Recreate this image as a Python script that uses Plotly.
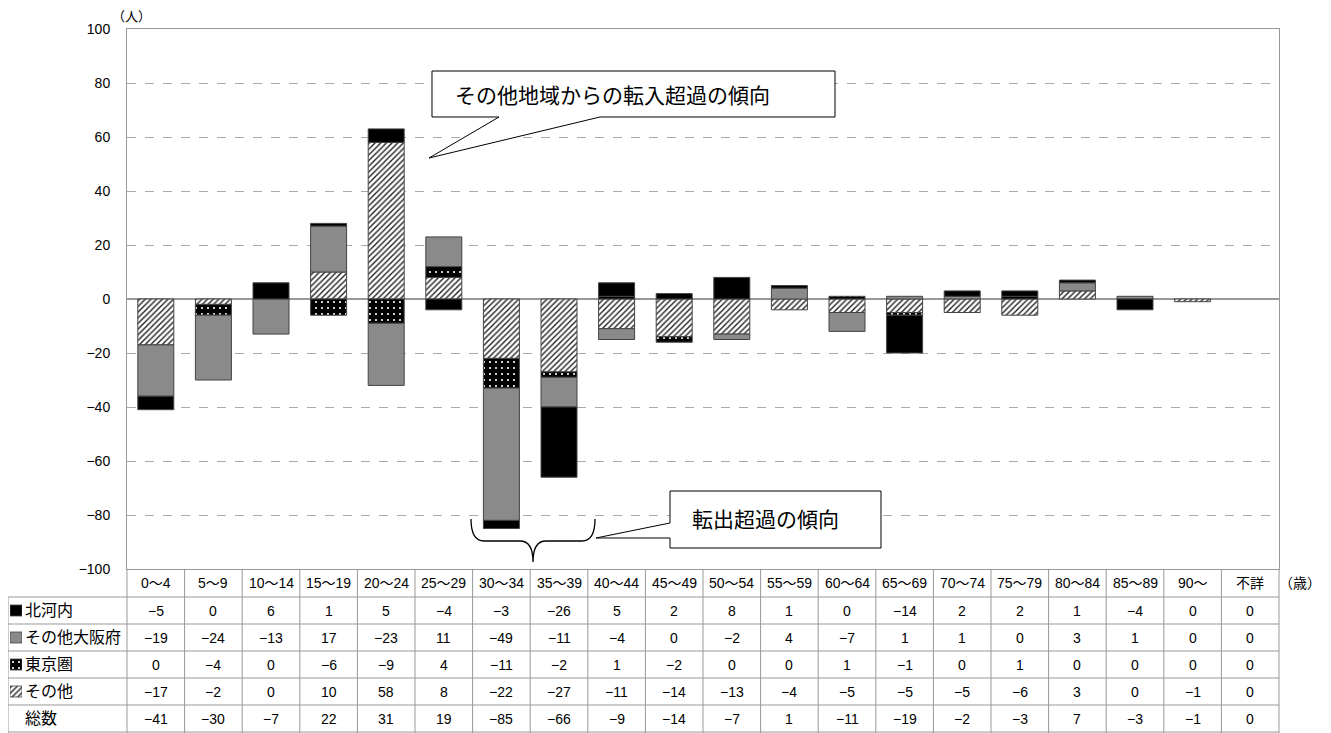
import plotly.graph_objects as go

# ---------------- data ----------------
categories = ["0～4", "5～9", "10～14", "15～19", "20～24", "25～29", "30～34", "35～39",
              "40～44", "45～49", "50～54", "55～59", "60～64", "65～69", "70～74", "75～79",
              "80～84", "85～89", "90～", "不詳"]
kitakawachi = [-5, 0, 6, 1, 5, -4, -3, -26, 5, 2, 8, 1, 0, -14, 2, 2, 1, -4, 0, 0]
sonota_osaka = [-19, -24, -13, 17, -23, 11, -49, -11, -4, 0, -2, 4, -7, 1, 1, 0, 3, 1, 0, 0]
tokyo = [0, -4, 0, -6, -9, 4, -11, -2, 1, -2, 0, 0, 1, -1, 0, 1, 0, 0, 0, 0]
sonota = [-17, -2, 0, 10, 58, 8, -22, -27, -11, -14, -13, -4, -5, -5, -5, -6, 3, 0, -1, 0]
total = [-41, -30, -7, 22, 31, 19, -85, -66, -9, -14, -7, 1, -11, -19, -2, -3, 7, -3, -1, 0]

row_labels = ["北河内", "その他大阪府", "東京圏", "その他", "総数"]
y_ticks = [-100, -80, -60, -40, -20, 0, 20, 40, 60, 80, 100]

# ---------------- geometry helpers ----------------
WIN_W, WIN_H = 1331, 733
OFF = 8  # page body margin
W, H = WIN_W - OFF, WIN_H - OFF
FONT = "Liberation Sans, Noto Sans CJK JP, sans-serif"


def px(x):
    return (x - OFF) / W


def py(y):
    return 1 - (y - OFF) / H


PLOT_L, PLOT_R, PLOT_T, PLOT_B = 127, 1279, 29, 569
ROW_EDGES = [597, 624, 651, 678, 705, 732]
TABLE_LEFT = 8

styles = {
    "北河内": dict(color="black", pattern=dict(shape="", fgcolor="black", bgcolor="black")),
    "その他大阪府": dict(color="#8c8c8c", pattern=dict(shape=".", fgcolor="#404040", bgcolor="#c4c4c4",
                                                   size=2, solidity=0.5)),
    "東京圏": dict(color="black", pattern=dict(shape=".", fgcolor="white", bgcolor="black",
                                            size=6, solidity=0.1)),
    "その他": dict(color="white", pattern=dict(shape="/", fgcolor="#222222", bgcolor="white",
                                            size=4, solidity=0.35)),
}
series = {"北河内": kitakawachi, "その他大阪府": sonota_osaka, "東京圏": tokyo, "その他": sonota}

fig = go.Figure()

# stacking order from the zero line outward
for name in ["その他", "東京圏", "その他大阪府", "北河内"]:
    vals = series[name]
    st = styles[name]
    fig.add_trace(go.Bar(
        x=categories, y=[v if v != 0 else None for v in vals], name=name,
        marker=dict(color=st["color"], pattern=st["pattern"],
                    line=dict(color="#444444", width=1)),
        showlegend=False, hoverinfo="x+y+name",
    ))

# legend keys in the table's header column (small subplot)
key_centers = [(ROW_EDGES[i] + ROW_EDGES[i + 1]) / 2 for i in range(5)]
for i, name in enumerate(row_labels[:4]):
    st = styles[name]
    fig.add_trace(go.Bar(
        x=[1], y=[key_centers[i]], base=0, orientation="h", width=11,
        marker=dict(color=st["color"], pattern=st["pattern"],
                    line=dict(color="#444444", width=0.8)),
        xaxis="x2", yaxis="y2", showlegend=False, hoverinfo="skip",
    ))

xd0, xd1 = px(PLOT_L), px(PLOT_R)
fig.update_layout(
    width=W, height=H,
    template="none",
    margin=dict(l=0, r=0, t=0, b=0),
    paper_bgcolor="white", plot_bgcolor="white",
    barmode="relative", bargap=0.375,
    font=dict(family=FONT, size=14, color="black"),
    showlegend=False,
    xaxis=dict(domain=[xd0, xd1], type="category", categoryorder="array",
               categoryarray=categories, range=[-0.5, len(categories) - 0.5],
               showticklabels=False, ticks="", showgrid=False, zeroline=False,
               showline=True, mirror=True, linecolor="#999999", linewidth=1,
               automargin=False),
    yaxis=dict(domain=[py(PLOT_B), py(PLOT_T)], range=[-100, 100], tickvals=y_ticks,
               ticks="", showgrid=True, gridcolor="#aaaaaa", griddash="dash", gridwidth=1,
               zeroline=True, zerolinecolor="#999999", zerolinewidth=1.5,
               showline=True, mirror=True, linecolor="#999999", linewidth=1,
               tickfont=dict(size=14, family=FONT), ticklabelstandoff=13,
               automargin=False),
    xaxis2=dict(domain=[px(10), px(22)], range=[0, 1], visible=False, fixedrange=True),
    yaxis2=dict(domain=[0, py(PLOT_B)], range=[WIN_H, PLOT_B], visible=False, fixedrange=True),
)

shapes = []
annotations = []
line_col = "#999999"
ncol = len(categories)
colw = (xd1 - xd0) / ncol

# table vertical lines
for k in range(ncol + 1):
    xx = xd0 + k * colw
    shapes.append(dict(type="line", xref="paper", yref="paper", x0=xx, x1=xx,
                       y0=0, y1=py(PLOT_B), line=dict(color=line_col, width=1)))
# header column left border
shapes.append(dict(type="line", xref="paper", yref="paper", x0=px(TABLE_LEFT), x1=px(TABLE_LEFT),
                   y0=0, y1=py(ROW_EDGES[0]), line=dict(color=line_col, width=1)))
# horizontal row lines
for ye in ROW_EDGES:
    shapes.append(dict(type="line", xref="paper", yref="paper", x0=px(TABLE_LEFT), x1=xd1,
                       y0=py(ye), y1=py(ye), line=dict(color=line_col, width=1)))

# header row: category labels
hdr_center = (PLOT_B + ROW_EDGES[0]) / 2
for i, c in enumerate(categories):
    annotations.append(dict(x=c, xref="x", y=py(hdr_center), yref="paper", text=c,
                            showarrow=False, font=dict(size=14, family=FONT),
                            xanchor="center", yanchor="middle"))


def fmt(v):
    return ("−" + str(-v)) if v < 0 else str(v)


rows = [kitakawachi, sonota_osaka, tokyo, sonota, total]
for r, vals in enumerate(rows):
    yc = py(key_centers[r])
    annotations.append(dict(x=px(23), xref="paper", y=yc, yref="paper", text=row_labels[r],
                            showarrow=False, xanchor="left", yanchor="middle",
                            font=dict(size=16, family=FONT)))
    for i, v in enumerate(vals):
        annotations.append(dict(x=categories[i], xref="x", y=yc, yref="paper", text=fmt(v),
                                showarrow=False, xanchor="center", yanchor="middle",
                                font=dict(size=14, family=FONT)))

# unit labels
annotations.append(dict(x=px(131), xref="paper", y=py(17), yref="paper", text="（人）",
                        showarrow=False, xanchor="center", yanchor="middle",
                        font=dict(size=13, family=FONT)))
annotations.append(dict(x=px(1300), xref="paper", y=py(hdr_center), yref="paper", text="（歳）",
                        showarrow=False, xanchor="center", yanchor="middle",
                        font=dict(size=14, family=FONT)))


def path(points, close=True):
    s = "M " + " L ".join(f"{px(a):.5f},{py(b):.5f}" for a, b in points)
    return s + (" Z" if close else "")


# callout 1
shapes.append(dict(type="path", xref="paper", yref="paper",
                   path=path([(432, 71), (835, 71), (835, 117), (600, 117), (429, 158),
                              (499, 117), (432, 117)]),
                   fillcolor="white", line=dict(color="black", width=1), layer="above"))
annotations.append(dict(x=px(612), xref="paper", y=py(94), yref="paper",
                        text="その他地域からの転入超過の傾向", showarrow=False,
                        xanchor="center", yanchor="middle",
                        font=dict(size=21, family="Noto Sans CJK JP")))
# callout 2
shapes.append(dict(type="path", xref="paper", yref="paper",
                   path=path([(670, 491), (881, 491), (881, 548), (670, 548), (670, 538),
                              (596, 538), (670, 523)]),
                   fillcolor="white", line=dict(color="black", width=1), layer="above"))
annotations.append(dict(x=px(765), xref="paper", y=py(518), yref="paper",
                        text="転出超過の傾向", showarrow=False,
                        xanchor="center", yanchor="middle",
                        font=dict(size=21, family="Noto Sans CJK JP")))


# brace
def P(a, b):
    return f"{px(a):.5f},{py(b):.5f}"


brace = (f"M {P(471, 519)} Q {P(471, 541)} {P(484, 541)} L {P(520, 541)} "
         f"Q {P(533, 541)} {P(533, 562)} Q {P(533, 541)} {P(546, 541)} "
         f"L {P(582, 541)} Q {P(595, 541)} {P(595, 519)}")
shapes.append(dict(type="path", xref="paper", yref="paper", path=brace,
                   line=dict(color="black", width=1.3), layer="above"))

fig.update_layout(shapes=shapes, annotations=annotations)
fig.write_html("out.html")
